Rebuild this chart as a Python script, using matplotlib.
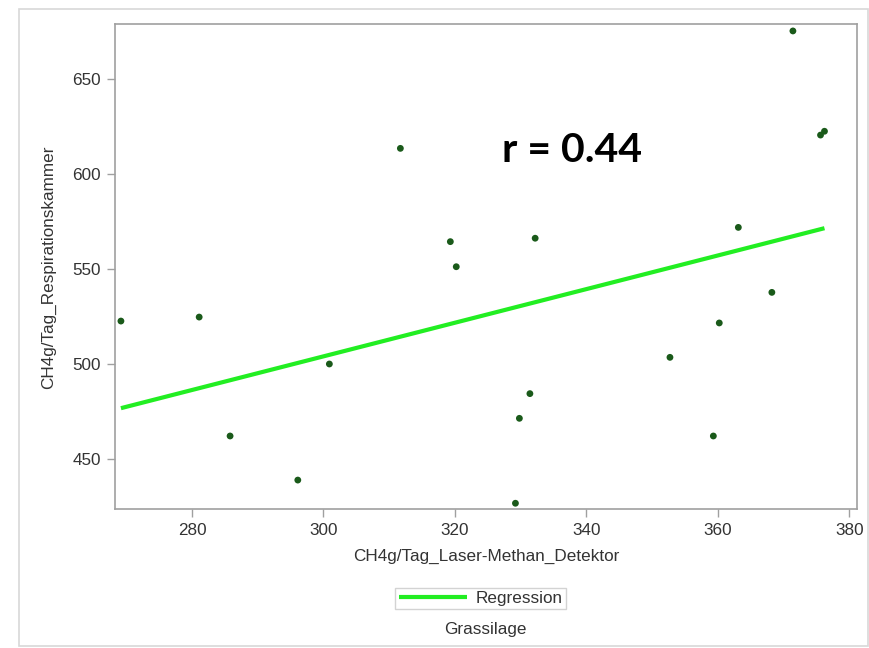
import numpy as np
import matplotlib
matplotlib.use('Agg')
import matplotlib.pyplot as plt
from matplotlib.patches import Rectangle

plt.rcParams['font.family'] = ['Liberation Sans', 'DejaVu Sans']

# CH4 g/Tag: laser methane detector vs. respiration chamber (grass silage)
laser = [269.2, 281.1, 285.8, 296.1, 300.9, 311.7, 319.3, 320.2, 329.2, 329.8,
         331.4, 332.2, 352.7, 359.3, 360.2, 363.1, 368.2, 371.4, 375.6, 376.2]
kammer = [522.6, 524.7, 462.1, 438.9, 500.0, 613.5, 564.4, 551.2, 426.7, 471.4,
          484.4, 566.2, 503.5, 462.1, 521.6, 571.9, 537.7, 675.3, 620.5, 622.5]

x_ticks = [280, 300, 320, 340, 360, 380]
y_ticks = [450, 500, 550, 600, 650]

grey = '#a0a0a0'
txt = '#333333'
fs = 12.3

fig = plt.figure(figsize=(8.7, 6.48), dpi=100)
ax = fig.add_axes([0.1322, 0.214, 0.8525, 0.7485])

x = np.array(laser)
y = np.array(kammer)
slope, icpt = np.polyfit(x, y, 1)
r = np.corrcoef(x, y)[0, 1]
xs = np.array([x.min(), x.max()])

ax.plot(xs, icpt + slope * xs, color='#22ee22', lw=3,
        solid_capstyle='butt', label='Regression', zorder=2)
ax.scatter(x, y, s=24, color='#1a5a1a', edgecolors='none', zorder=3)

ax.text(327.2, 606.5, 'r = {:.2f}'.format(r), fontsize=29.5, fontweight='bold',
        family=['Lato', 'DejaVu Sans'], ha='left', va='baseline', color='black')

ax.set_xlim(268.3, 381.1)
ax.set_ylim(423.5, 678.8)
ax.set_xticks(x_ticks)
ax.set_yticks(y_ticks)
for s in ax.spines.values():
    s.set_color(grey)
    s.set_linewidth(1.2)
ax.tick_params(direction='out', length=6, width=1, color=grey,
               labelsize=fs, labelcolor=txt, pad=4)

ax.set_xlabel('CH4g/Tag_Laser-Methan_Detektor', fontsize=fs, color=txt,
              labelpad=8)
ax.set_ylabel('CH4g/Tag_Respirationskammer', fontsize=fs, color=txt,
              labelpad=12)

leg = ax.legend(loc='center', bbox_to_anchor=(0.5525, 0.0764),
                bbox_transform=fig.transFigure, fontsize=fs, frameon=True,
                fancybox=False, handlelength=4.0, handletextpad=0.5,
                borderpad=0.2, borderaxespad=0)
leg.get_frame().set_edgecolor('#c8c8c8')
leg.get_frame().set_linewidth(1)
for t in leg.get_texts():
    t.set_color(txt)

fig.text(0.5575, 0.028, 'Grassilage', ha='center', va='center',
         fontsize=fs, color=txt)

# light outer frame around the whole graph
fig.patches.append(Rectangle((19 / 870, 1 - 646 / 648), 849 / 870, 637 / 648,
                             transform=fig.transFigure, fill=False,
                             edgecolor='#d8d8d8', lw=1.2))

fig.savefig('out.png', dpi=100)
